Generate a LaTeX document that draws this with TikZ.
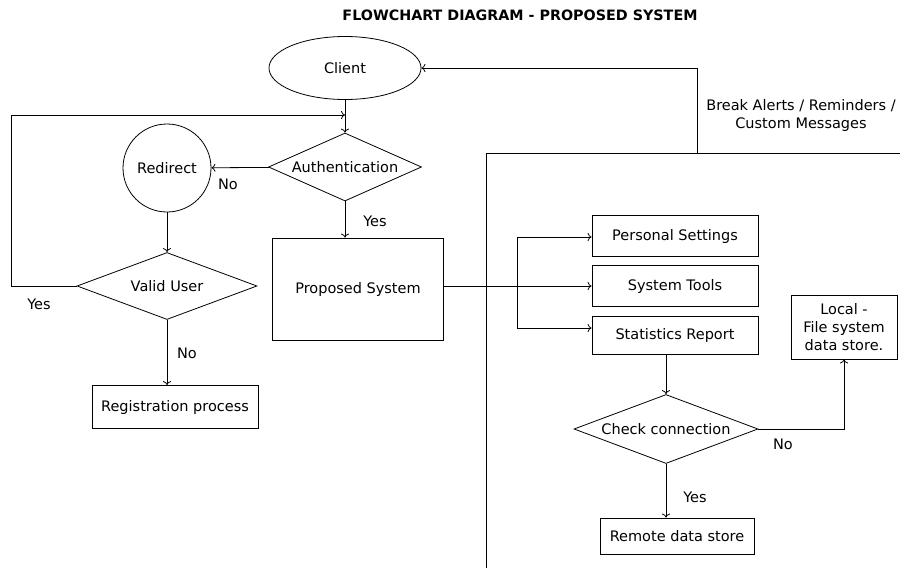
\documentclass[tikz,border=0pt]{standalone}
\usepackage{fontspec}
\setmainfont{DejaVu Sans}
\usetikzlibrary{shapes.geometric,arrows.meta}

\begin{document}
\begin{tikzpicture}[x=1pt,y=-1pt,font=\fontsize{14.5}{18}\selectfont,line width=0.8pt]
\useasboundingbox (0,0) rectangle (900,568);
\node (title) at (520,15) {\fontsize{14.3}{16}\selectfont\bfseries FLOWCHART DIAGRAM - PROPOSED SYSTEM};

\tikzstyle{box}=[draw,rectangle,inner sep=0pt]
\tikzstyle{decision}=[draw,diamond,inner sep=0pt,aspect=2.5]
\tikzstyle{conn}=[-{To[length=4pt,width=8pt]}]
\tikzstyle{lbl}=[inner sep=0pt]

\node[draw,ellipse,minimum width=152pt,minimum height=63pt,inner sep=0pt] (cl) at (345,68) {Client};
\node[decision,minimum width=153pt,minimum height=68pt] (auth) at (345,167) {Authentication};
\node[draw,circle,minimum size=88pt,inner sep=0pt] (redir) at (167,168) {Redirect};
\node[decision,minimum width=180pt,minimum height=67pt] (valid) at (167,286) {Valid User};
\node[box,minimum width=166pt,minimum height=43pt] (reg) at (175,407) {Registration process};
\node[box,minimum width=171pt,minimum height=102pt] (prop) at (358,289) {Proposed System};

\node[box,minimum width=166pt,minimum height=41pt] (ps) at (675,236) {Personal Settings};
\node[box,minimum width=166pt,minimum height=41pt] (st) at (675,286) {System Tools};
\node[box,minimum width=166pt,minimum height=38pt] (sr) at (675,335) {Statistics Report};
\node[box,minimum width=106pt,minimum height=64pt,align=center] (local) at (844,327) {Local -\\File system\\data store.};
\node[decision,minimum width=184pt,minimum height=69pt] (chk) at (666,429) {Check connection};
\node[box,minimum width=154pt,minimum height=36pt] (remote) at (677,536) {Remote data store};

% system boundary
\coordinate (zoneL) at (486,568);
\coordinate (zoneC) at (486,153);
\coordinate (zoneR) at (900,153);
\coordinate (msg) at (697,153);
\draw (zoneL) -- (zoneC) -- (zoneR);
\node[align=center] (alerts) at (801,115) {Break Alerts / Reminders /\\Custom Messages};
\draw[conn] (msg) |- (cl.east);

\draw[conn] (cl) -- (auth);
\draw[conn] (auth) -- (redir);
\node[lbl] (no1) at (228,184) {No};
\draw[conn] (auth.south) -- (auth.south |- prop.north);
\node[lbl] (yes1) at (375,221) {Yes};
\draw[conn] (redir) -- (valid);

\coordinate (loopT) at (11,115);
\coordinate (loopE) at (345,115);
\draw[conn] (valid.west) -| (loopT) -- (loopE);
\node[lbl] (yes2) at (39,304) {Yes};
\draw[conn] (valid.south) -- (valid.south |- reg.north);
\node[lbl] (no2) at (187,353) {No};

\draw[conn] (prop.east |- st.west) -- (st.west);
\coordinate (brT) at (517,237);
\coordinate (brB) at (517,328);
\draw (brT) -- (brB);
\draw[conn] (brT) -- (brT -| ps.west);
\draw[conn] (brB) -- (brB -| sr.west);

\draw[conn] (sr.south -| chk.north) -- (chk.north);
\draw[conn] (chk.east) -| (local.south);
\node[lbl] (no3) at (783,444) {No};
\draw[conn] (chk.south) -- (chk.south |- remote.north);
\node[lbl] (yes3) at (695,497) {Yes};
\end{tikzpicture}
\end{document}
